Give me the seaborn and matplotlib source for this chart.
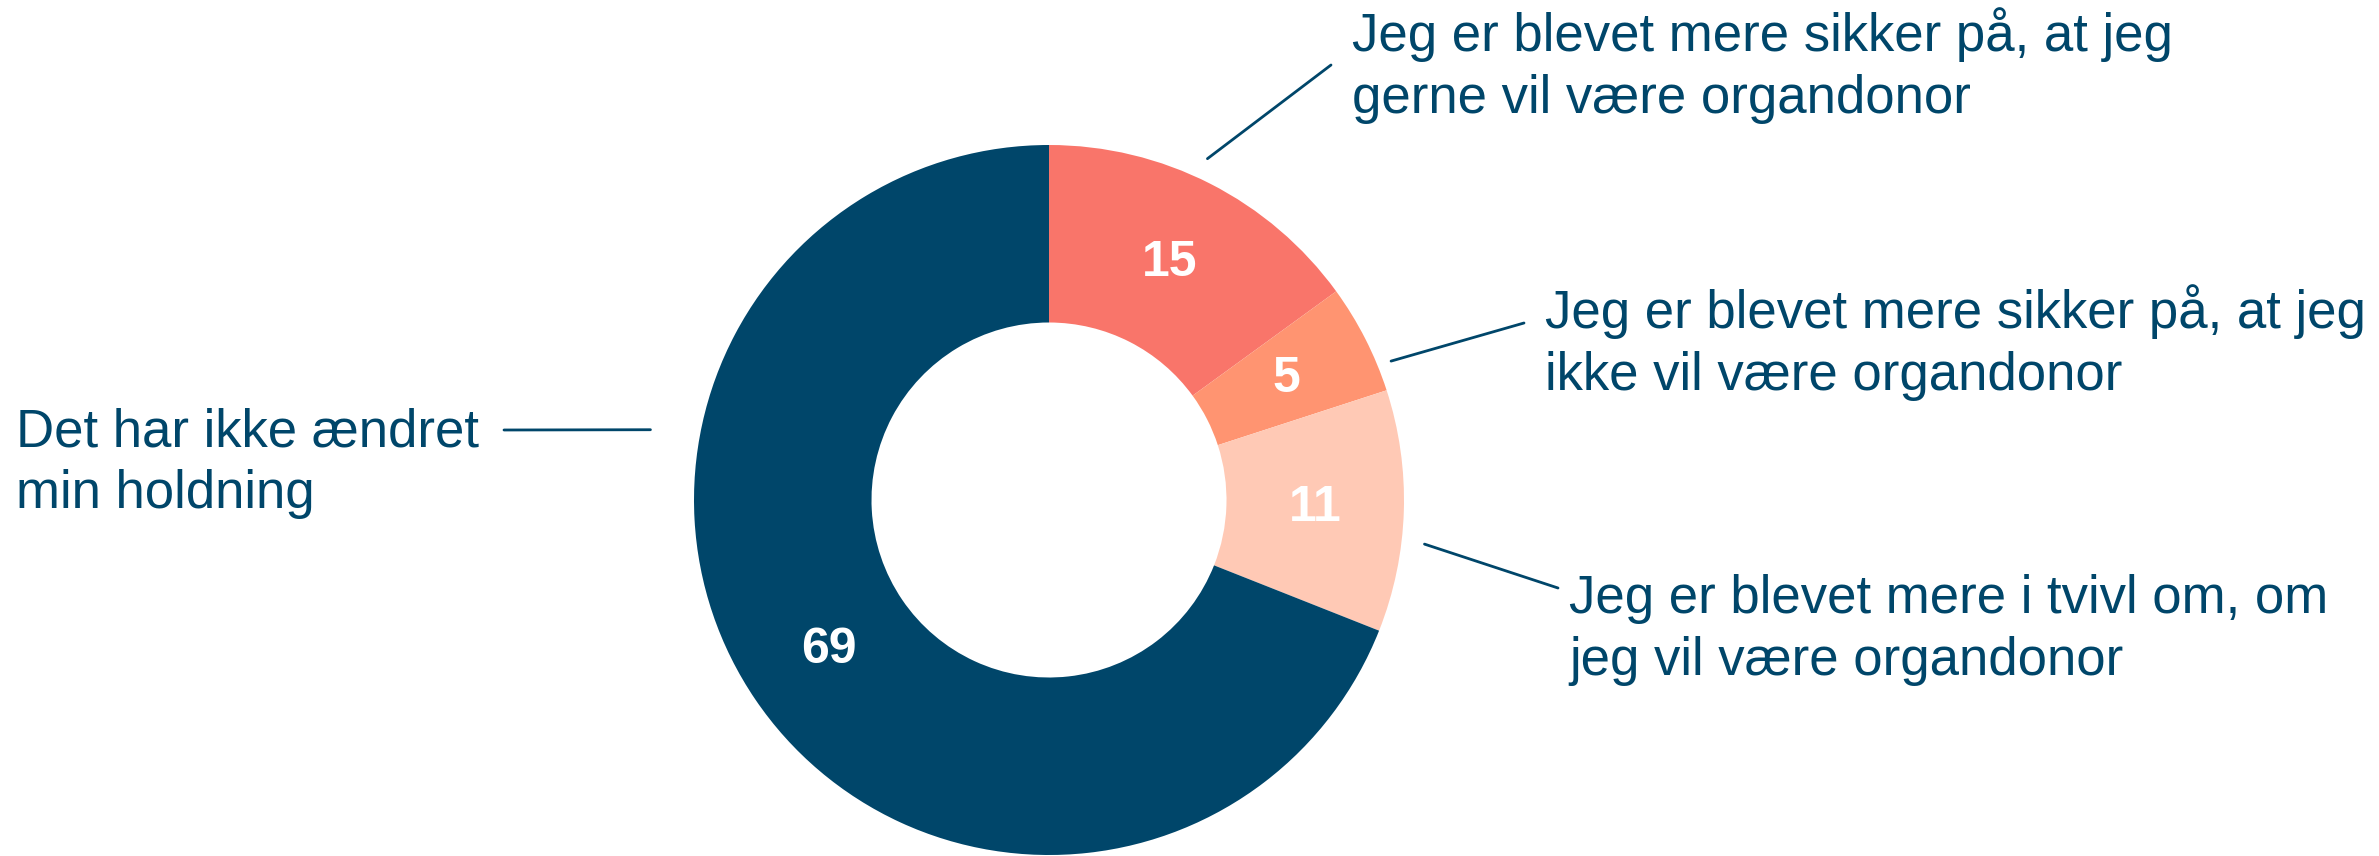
import matplotlib
matplotlib.use("Agg")
import matplotlib.pyplot as plt
import seaborn as sns
import numpy as np

# Data (clockwise from 12 o'clock)
categories = [
    "Jeg er blevet mere sikker på, at jeg\ngerne vil være organdonor",
    "Jeg er blevet mere sikker på, at jeg\nikke vil være organdonor",
    "Jeg er blevet mere i tvivl om, om\njeg vil være organdonor",
    "Det har ikke ændret\nmin holdning",
]
values = [15, 5, 11, 69]
colors = ["#F9756A", "#FF9471", "#FFC9B5", "#00466A"]
navy = "#00466A"

sns.set_theme(style="white")
plt.rcParams['font.family'] = ['Liberation Sans', 'DejaVu Sans']

W, H = 2379, 856
fig = plt.figure(figsize=(W / 100, H / 100), dpi=100)
ax = fig.add_axes([694 / W, 1 / H, 710 / W, 710 / H])

wedges, _ = ax.pie(values, colors=colors, startangle=90, counterclock=False,
                   radius=1, wedgeprops=dict(width=0.5, linewidth=0))
ax.set_xlim(-1, 1)
ax.set_ylim(-1, 1)
ax.axis('off')

# value labels in the middle of the ring
for w, v in zip(wedges, values):
    mid = np.deg2rad((w.theta1 + w.theta2) / 2)
    ax.text(0.75 * np.cos(mid), 0.75 * np.sin(mid), str(v), color="white",
            fontsize=36, fontweight="bold", ha="center", va="center")

# category labels: (leader angle clockwise from top, leader radius,
#                   leader end in px, text left / last-line baseline in px)
layout = [
    (24.9, 1.06, (1331, H - 65), (1352, H - 113)),
    (67.9, 1.04, (1524, H - 323), (1545, H - 390)),
    (96.7, 1.065, (1558, H - 588), (1569, H - 675)),
    (280.0, 1.14, (504, H - 430), (16, H - 508)),
]
for label, (ang, r, end, pos) in zip(categories, layout):
    a = np.deg2rad(ang)
    ax.annotate("", xy=(r * np.sin(a), r * np.cos(a)), xycoords='data',
                xytext=end, textcoords='figure pixels', annotation_clip=False,
                arrowprops=dict(arrowstyle='-', color=navy, lw=2,
                                shrinkA=0, shrinkB=0))
    fig.text(pos[0] / W, pos[1] / H, label, color=navy, fontsize=38,
             ha="left", va="baseline", linespacing=1.3)

fig.savefig("out.png", dpi=100, facecolor="white")
